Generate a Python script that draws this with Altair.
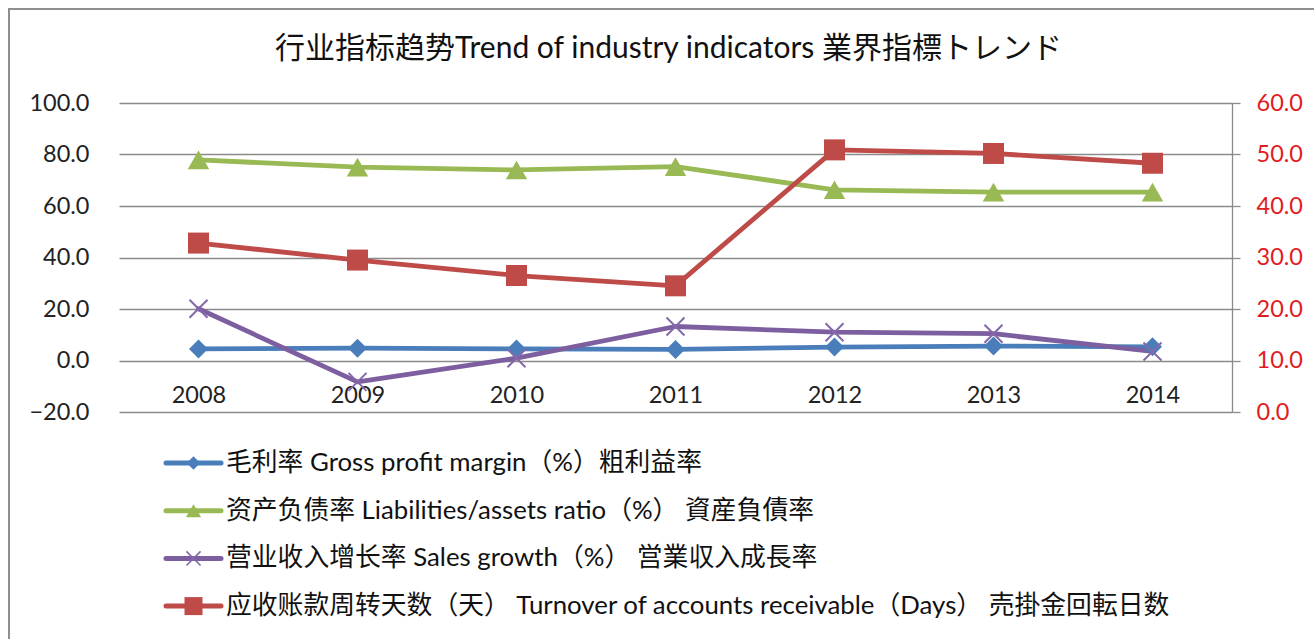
import altair as alt
import pandas as pd

years = ["2008", "2009", "2010", "2011", "2012", "2013", "2014"]
labels = [
    "毛利率 Gross profit margin（%）粗利益率",
    "资产负债率 Liabilities/assets ratio（%） 資産負債率",
    "营业收入增长率 Sales growth（%） 営業収入成長率",
    "应收账款周转天数（天） Turnover of accounts receivable（Days） 売掛金回転日数",
]
gross = [4.5, 4.8, 4.5, 4.3, 5.2, 5.6, 5.3]
liab = [77.9, 75.1, 74.0, 75.3, 66.3, 65.4, 65.4]
sales = [20.1, -8.3, 0.9, 13.2, 11.0, 10.4, 3.5]
turnover = [32.8, 29.5, 26.5, 24.5, 50.9, 50.2, 48.3]
left_ticks = [-20, 0, 20, 40, 60, 80, 100]
right_ticks = [0, 10, 20, 30, 40, 50, 60]
title_text = "行业指标趋势Trend of industry indicators 業界指標トレンド"

colors = ["#4A7EBB", "#98B954", "#7D5FA0", "#BE4B48"]
FONT = "Lato, Noto Sans CJK SC, sans-serif"
GRID = "#8a8a8a"
X_PATH = "M-1,-1L1,1M-1,1L1,-1"

rows = []
for lab, vals in zip(labels[:3], [gross, liab, sales]):
    for y, v in zip(years, vals):
        rows.append({"year": y, "value": v, "series": lab})
df_left = pd.DataFrame(rows)
df_right = pd.DataFrame({"year": years, "value": turnover, "series": labels[3]})
df_legend = pd.DataFrame({"series": labels})

x_enc = alt.X(
    "year:N",
    scale=alt.Scale(type="point", domain=years, padding=0.5),
    axis=alt.Axis(
        title=None, domain=False, ticks=False, grid=False, labelAngle=0,
        offset=-52, labelPadding=23, labelFontSize=23.5, labelFont=FONT,
        labelColor="#222222",
    ),
)
y_left = alt.Y(
    "value:Q",
    scale=alt.Scale(domain=[-20, 100], nice=False, zero=False),
    axis=alt.Axis(
        title=None, values=left_ticks, format=".1f", grid=True, gridColor=GRID,
        gridWidth=1.3, domain=False, ticks=False, labelPadding=30,
        labelFontSize=23.5, labelFont=FONT, labelColor="#222222",
    ),
)
y_right = alt.Y(
    "value:Q",
    scale=alt.Scale(domain=[0, 60], nice=False, zero=False),
    axis=alt.Axis(
        title=None, orient="right", values=right_ticks, format=".1f", grid=False,
        domain=True, domainColor=GRID, domainWidth=1.3, ticks=True, tickSize=8,
        tickColor=GRID, tickWidth=1.3, labelPadding=16, labelFontSize=23.5,
        labelFont=FONT, labelColor="#E11B22",
    ),
)
color_scale = alt.Scale(domain=labels, range=colors)
color_enc = alt.Color("series:N", scale=color_scale, legend=None)

frame = alt.Chart(alt.Data(values=[{"a": 1}])).mark_rect(
    fillOpacity=0, stroke="#8f8f8f", strokeWidth=2
).encode(x=alt.value(-110), x2=alt.value(1210), y=alt.value(-94), y2=alt.value(560))

lines_left = alt.Chart(df_left).mark_line(
    strokeWidth=4.8, strokeJoin="round", strokeCap="round"
).encode(x=x_enc, y=y_left, color=color_enc)

pts_gross = alt.Chart(df_left).transform_filter(alt.datum.series == labels[0]).mark_point(
    shape="diamond", filled=True, size=360, opacity=1
).encode(x=x_enc, y=y_left, color=color_enc)
pts_liab = alt.Chart(df_left).transform_filter(alt.datum.series == labels[1]).mark_point(
    shape="triangle-up", filled=True, size=460, opacity=1
).encode(x=x_enc, y=y_left, color=color_enc)
pts_sales = alt.Chart(df_left).transform_filter(alt.datum.series == labels[2]).mark_point(
    shape=X_PATH, filled=False, size=324, strokeWidth=2, opacity=1
).encode(x=x_enc, y=y_left, color=alt.value("#8468AA"))

# manual legend (line sample + marker + label)
leg_layers = []
leg_marks = [
    dict(shape="diamond", filled=True, size=180),
    dict(shape="triangle-up", filled=True, size=230),
    dict(shape=X_PATH, filled=False, size=200, strokeWidth=1.6),
    dict(shape="square", filled=True, size=324),
]
for i, lab in enumerate(labels):
    yy = 360 + 47.7 * i
    base = alt.Chart(df_legend).transform_filter(alt.datum.series == lab)
    leg_layers.append(
        base.mark_rule(strokeWidth=5, color=colors[i], strokeCap="round").encode(
            x=alt.value(47), x2=alt.value(102), y=alt.value(yy)
        )
    )
    mk = dict(leg_marks[i])
    mcol = "#8468AA" if i == 2 else colors[i]
    leg_layers.append(
        base.mark_point(opacity=1, color=mcol, **mk).encode(
            x=alt.value(74.5), y=alt.value(yy)
        )
    )
    leg_layers.append(
        base.mark_text(
            align="left", baseline="middle", font=FONT, fontSize=25.8, color="#111111"
        ).encode(x=alt.value(107), y=alt.value(yy), text="series:N")
    )

left = alt.layer(frame, lines_left, pts_gross, pts_liab, pts_sales, *leg_layers)

lines_right = alt.Chart(df_right).mark_line(
    strokeWidth=4.8, strokeJoin="round", strokeCap="round"
).encode(x=x_enc, y=y_right, color=color_enc)
pts_right = alt.Chart(df_right).mark_point(
    shape="square", filled=True, size=441, opacity=1
).encode(x=x_enc, y=y_right, color=color_enc)
right = alt.layer(lines_right, pts_right)

chart = alt.layer(left, right).resolve_scale(y="independent").properties(
    width=1113, height=309,
    autosize="none",
    padding={"left": 119, "top": 103, "right": 82, "bottom": 227},
    background="white",
    title=alt.TitleParams(
        text=title_text, fontSize=30, font=FONT, fontWeight="normal",
        anchor="middle", dx=-7, offset=-86, baseline="bottom", color="#111111",
    ),
).configure_view(stroke=None)

chart.save("out.html", embed_options={"renderer": "svg", "actions": False})
